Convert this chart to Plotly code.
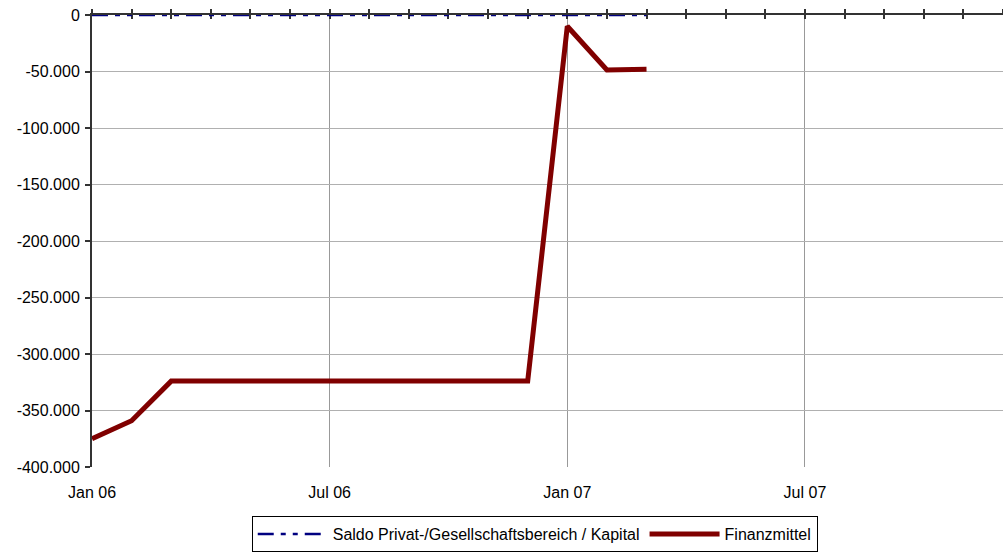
import plotly.graph_objects as go

all_months = ["Jan 06", "Feb 06", "Mär 06", "Apr 06", "Mai 06", "Jun 06", "Jul 06", "Aug 06",
              "Sep 06", "Okt 06", "Nov 06", "Dez 06", "Jan 07", "Feb 07", "Mär 07", "Apr 07",
              "Mai 07", "Jun 07", "Jul 07", "Aug 07", "Sep 07", "Okt 07", "Nov 07", "Dez 07"]
data_months = all_months[:15]
saldo = [0] * 15
finanzmittel = [-375000, -359000, -324000, -324000, -324000, -324000, -324000, -324000,
                -324000, -324000, -324000, -324000, -10000, -48700, -48000]
x_labels = ["Jan 06", "Jul 06", "Jan 07", "Jul 07"]
y_vals = [0, -50000, -100000, -150000, -200000, -250000, -300000, -350000, -400000]
y_text = ["0", "-50.000", "-100.000", "-150.000", "-200.000", "-250.000", "-300.000",
          "-350.000", "-400.000"]

fig = go.Figure()
fig.add_trace(go.Scatter(x=data_months, y=finanzmittel, mode="lines", name="Finanzmittel",
                         line=dict(color="#800000", width=5), xaxis="x", yaxis="y"))
fig.add_trace(go.Scatter(x=data_months, y=saldo, mode="lines",
                         name="Saldo Privat-/Gesellschaftsbereich / Kapital",
                         line=dict(color="#000080", width=2.5, dash="16px,7px,5px,7px,5px,7px"),
                         cliponaxis=False, xaxis="x2", yaxis="y"))
# invisible helper trace so the inner tick axis is drawn
fig.add_trace(go.Scatter(x=[all_months[0]], y=[None], mode="lines", showlegend=False,
                         hoverinfo="skip", xaxis="x3", yaxis="y"))

font = dict(family="Liberation Sans, Arial, sans-serif", size=16, color="#000")
cat = dict(type="category", categoryorder="array", categoryarray=all_months, range=[0, 23],
           automargin=False)
fig.update_layout(
    width=1003, height=552, paper_bgcolor="white", plot_bgcolor="white",
    margin=dict(l=92, r=0, t=15, b=85),
    font=font,
    showlegend=True,
    legend=dict(orientation="h", xref="paper", x=0.486, xanchor="center",
                yref="container", y=0.0, yanchor="bottom",
                bordercolor="#000", borderwidth=1, font=dict(size=16),
                traceorder="reversed", tracegroupgap=0, itemwidth=70),
    xaxis=dict(**cat, tickvals=x_labels, ticktext=x_labels, ticks="",
               showgrid=True, gridcolor="#999", gridwidth=1, showline=False,
               zeroline=False, ticklabelstandoff=14, tickfont=font),
    xaxis2=dict(**cat, overlaying="x", side="top", tickvals=all_months,
                ticks="outside", ticklen=4, tickwidth=2, tickcolor="#333",
                showline=True, linecolor="#333", linewidth=2, showticklabels=False,
                showgrid=False, zeroline=False, layer="below traces"),
    xaxis3=dict(**cat, overlaying="x", side="top", tickvals=all_months,
                ticks="inside", ticklen=4, tickwidth=2, tickcolor="#333",
                showline=False, showticklabels=False, showgrid=False, zeroline=False,
                layer="below traces"),
    yaxis=dict(range=[-400000, 0], tickvals=y_vals, ticktext=y_text, ticks="outside",
               ticklen=5, tickwidth=2, tickcolor="#333", showline=True, linecolor="#333",
               linewidth=2, showgrid=True, gridcolor="#b0b0b0", gridwidth=1,
               zeroline=False, tickfont=font, ticklabelstandoff=2, layer="below traces",
               automargin=False),
)
fig.write_html("out.html", config={"displayModeBar": False},
               post_script="document.body.style.margin='0';document.body.style.overflow='hidden';")
